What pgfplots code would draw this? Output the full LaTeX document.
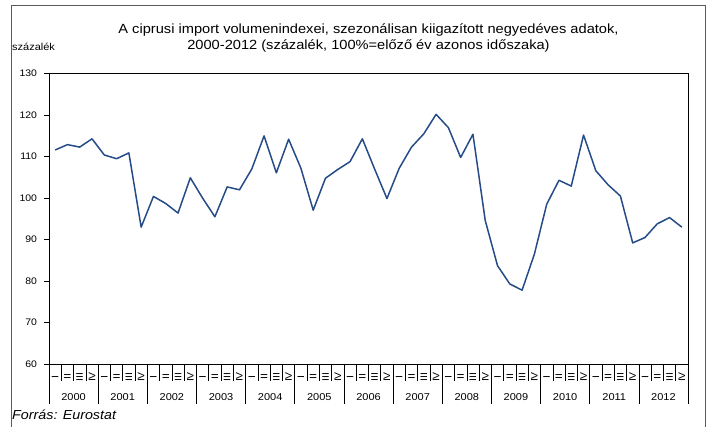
\documentclass[border=0pt]{standalone}
\usepackage{fontspec}
\setmainfont{Liberation Sans}[FakeStretch=1.1]
\usepackage{pgfplots}
\pgfplotsset{compat=1.18}
\definecolor{serie}{RGB}{38,76,136}
\definecolor{keret}{RGB}{90,90,90}

% negyedéves adatok, 2000 I - 2012 IV
\pgfplotstableread{
q val
0 111.6
1 112.9
2 112.3
3 114.3
4 110.4
5 109.5
6 110.9
7 93.0
8 100.4
9 98.7
10 96.4
11 104.9
12 100.0
13 95.5
14 102.7
15 102.0
16 107.0
17 115.0
18 106.1
19 114.2
20 107.2
21 97.1
22 104.8
23 106.9
24 108.8
25 114.3
26 107.0
27 99.9
28 107.2
29 112.3
30 115.5
31 120.2
32 117.0
33 109.8
34 115.4
35 94.6
36 83.7
37 79.3
38 77.8
39 86.5
40 98.5
41 104.3
42 102.9
43 115.2
44 106.6
45 103.2
46 100.5
47 89.2
48 90.5
49 93.8
50 95.3
51 93.0
}\import

\begin{document}
\begin{tikzpicture}
\useasboundingbox (-49pt,-63pt) rectangle (660pt,364pt);
\draw[keret, line width=0.8pt] (-38pt,-70pt) -- (-38pt,359pt) -- (656pt,359pt) -- (656pt,-70pt);
\begin{axis}[
  scale only axis,
  width=639pt, height=290.3pt,
  xmin=-0.5, xmax=51.5,
  ymin=60, ymax=130,
  ytick={60,70,...,130},
  xtick={0,...,51},
  xticklabels={I,II,III,IV,I,II,III,IV,I,II,III,IV,I,II,III,IV,I,II,III,IV,I,II,III,IV,I,II,III,IV,I,II,III,IV,I,II,III,IV,I,II,III,IV,I,II,III,IV,I,II,III,IV,I,II,III,IV},
  xtick style={draw=none},
  xticklabel style={yshift=-8pt, rotate=90, anchor=center, font=\fontsize{9.5}{11}\selectfont},
  yticklabel style={font=\fontsize{9.5}{11}\selectfont, xshift=-3.5pt},
  /pgf/number format/assume math mode=true,
  tick align=outside, tick pos=left,
  major tick length=5pt,
  axis line style={line width=0.8pt},
  every tick/.style={black, line width=0.6pt},
  clip=false,
]
\addplot[serie, line width=1.5pt, no markers, line join=round] table[x=q, y=val] {\import};
\end{axis}
% negyedév- és évhatárok
\foreach \k in {0,...,52} {
  \draw[line width=0.6pt] ({\k*12.2885pt},0pt) -- ++(0pt,-17pt);
}
\foreach \k in {0,...,13} {
  \draw[line width=0.6pt] ({\k*49.1538pt},0pt) -- ++(0pt,-40pt);
}
\foreach \k in {0,...,12} {
  \pgfmathtruncatemacro\ev{2000+\k}
  \node[font=\fontsize{10}{12}\selectfont] at ({\k*49.1538pt+24.577pt},-33pt) {\ev};
}
\node[anchor=base, font=\fontsize{13.3}{16.5}\selectfont, align=center] at (319.5pt,314pt)
  {A ciprusi import volumenindexei, szezonálisan kiigazított negyedéves adatok,\\
   2000-2012 (százalék, 100\%=előző év azonos időszaka)};
\node[anchor=base west, inner sep=0pt, font=\fontsize{10}{12}\selectfont] at (-37pt,313pt) {százalék};
\node[anchor=base west, inner sep=0pt, font=\fontsize{13}{15}\itshape] at (-37pt,-56pt) {Forrás: Eurostat};
\end{tikzpicture}
\end{document}
